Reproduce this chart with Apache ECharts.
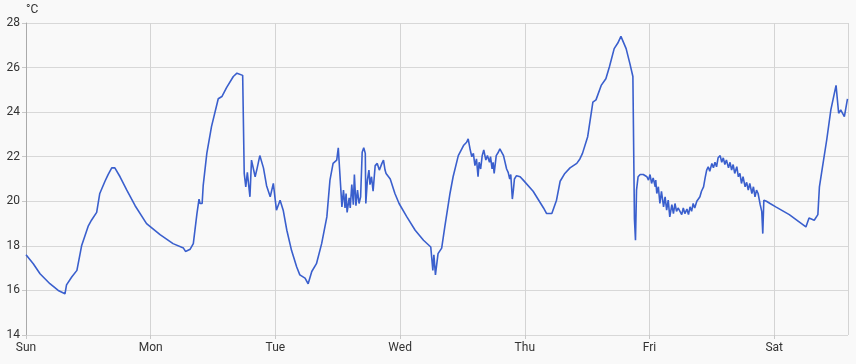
<!DOCTYPE html>
<html>
<head>
<meta charset="utf-8">
<script src="https://cdn.jsdelivr.net/npm/echarts@6/dist/echarts.min.js"></script>
<style>
html,body{margin:0;padding:0;background:#f9f9f9;}
#c{width:856px;height:364px;}
</style>
</head>
<body>
<div id="c"></div>
<script>
// Day names for x tick labels (x = hours since Sunday 00:00)
const dayLabels = ['Sun','Mon','Tue','Wed','Thu','Fri','Sat'];
const yTicks = [14,16,18,20,22,24,26,28];
const unitName = '°C';

// Readings [hour, °C], one array per day
const sunReadings = [[0.0,17.6],[1.4,17.2],[2.7,16.75],[4.6,16.3],[6.2,16.0],[7.5,15.85],[7.8,16.25],[8.8,16.6],[9.8,16.9],[10.7,18.0],[12.0,18.9],[12.6,19.15],[13.6,19.5],[14.2,20.35],[15.2,20.9],[15.8,21.2],[16.5,21.5],[17.1,21.5],[18.1,21.1],[19.4,20.5],[21.0,19.8],[23.2,19.0]];
const monReadings = [[25.8,18.5],[28.3,18.1],[30.3,17.9],[30.7,17.75],[31.6,17.85],[32.2,18.1],[32.9,19.45],[33.3,20.1],[33.5,19.9],[33.9,19.9],[34.1,20.7],[34.8,22.15],[35.7,23.35],[37.0,24.6],[37.7,24.7],[38.6,25.1],[39.9,25.6],[40.6,25.75],[41.7,25.65],[41.8,25.6],[42.0,21.25],[42.3,20.65],[42.6,21.3],[43.1,20.2],[43.4,21.85],[44.1,21.1],[44.5,21.5],[45.0,22.05],[45.7,21.5],[46.3,20.7],[47.0,20.2],[47.6,20.8]];
const tueReadings = [[48.2,19.6],[48.9,20.05],[49.5,19.6],[50.2,18.7],[51.1,17.8],[52.1,17.05],[52.7,16.7],[53.7,16.55],[54.3,16.3],[55.0,16.85],[55.9,17.2],[56.9,18.1],[57.9,19.3],[58.5,20.95],[59.1,21.7],[59.8,21.85],[60.1,22.4],[60.8,19.75],[61.1,20.5],[61.4,19.7],[61.6,20.35],[61.8,19.5],[62.2,20.15],[62.4,19.7],[62.7,20.75],[63.0,19.85],[63.2,21.2],[63.5,19.8],[63.8,20.5],[64.1,19.9],[64.4,20.2],[64.7,22.2],[65.0,22.4],[65.3,22.15],[65.4,19.9],[65.7,20.95],[66.0,21.4],[66.2,20.75],[66.5,21.1],[66.8,20.45],[67.2,21.6],[67.6,21.7],[68.0,21.4],[68.5,21.7],[68.8,21.85],[69.1,21.4],[69.3,21.25],[69.5,21.25],[70.1,21.0],[71.0,20.35],[71.8,19.9]];
const wedReadings = [[73.3,19.3],[74.9,18.7],[76.5,18.25],[77.9,17.95],[78.3,16.9],[78.5,17.6],[78.8,16.7],[79.3,17.65],[80.0,17.9],[80.6,18.85],[81.6,20.35],[82.2,21.1],[83.2,22.05],[83.5,22.05],[84.2,22.5],[84.8,22.65],[85.1,22.8],[85.5,22.3],[85.8,22.0],[86.1,22.15],[86.4,21.6],[86.7,21.9],[87.0,21.1],[87.2,21.75],[87.5,21.45],[87.8,22.05],[88.1,22.3],[88.5,21.85],[88.8,22.05],[89.2,21.75],[89.4,22.0],[89.7,21.45],[89.9,21.75],[90.1,21.25],[90.5,22.05],[90.9,22.2],[91.2,22.35],[91.5,22.3],[91.9,22.05],[92.2,22.0],[92.5,21.45],[92.8,21.3],[93.1,21.0],[93.3,21.2],[93.6,20.1],[93.8,20.5],[94.0,21.0],[94.4,21.15],[95.1,21.1],[95.7,20.95]];
const thuReadings = [[97.6,20.45],[99.6,19.7],[100.2,19.45],[101.2,19.45],[102.1,20.05],[102.8,20.9],[103.7,21.25],[104.7,21.5],[106.0,21.7],[106.6,21.9],[107.1,22.15],[108.1,22.9],[109.1,24.45],[109.7,24.55],[110.7,25.2],[111.6,25.5],[112.3,26.05],[113.2,26.85],[113.9,27.1],[114.5,27.4],[114.8,27.4],[115.5,26.85],[116.2,26.2],[116.8,25.6],[117.1,19.2],[117.3,18.25],[117.5,20.5],[117.8,21.1],[118.2,21.2],[118.8,21.2],[119.5,21.1],[119.8,20.95]];
const friReadings = [[120.1,21.2],[120.4,20.8],[120.7,21.05],[121.1,20.65],[121.2,20.95],[121.4,20.35],[121.7,20.65],[122.0,19.9],[122.3,20.45],[122.7,19.75],[123.0,20.2],[123.3,19.6],[123.6,20.05],[123.9,19.3],[124.3,19.85],[124.6,19.45],[124.9,19.9],[125.2,19.55],[125.5,19.7],[126.2,19.4],[126.5,19.7],[126.8,19.45],[127.2,19.65],[127.5,19.4],[127.8,19.75],[128.1,19.55],[128.4,19.9],[128.7,19.7],[129.1,20.0],[129.4,20.05],[129.7,20.2],[130.0,20.45],[130.4,20.65],[130.7,21.05],[131.0,21.4],[131.3,21.55],[131.6,21.35],[132.0,21.7],[132.3,21.5],[132.6,21.75],[132.9,21.55],[133.2,21.95],[133.6,22.05],[133.9,21.75],[134.2,21.95],[134.5,21.65],[134.8,21.85],[135.2,21.5],[135.5,21.75],[135.8,21.4],[136.1,21.65],[136.4,21.25],[136.8,21.55],[137.1,21.1],[137.4,21.25],[137.7,20.8],[138.0,21.1],[138.4,20.65],[138.7,20.85],[139.0,20.5],[139.3,20.8],[139.7,20.35],[140.0,20.65],[140.3,20.2],[140.6,20.5],[140.9,20.35],[141.3,19.85],[141.6,19.55],[141.8,18.55],[142.0,20.05],[142.5,20.0],[143.2,19.9]];
const satReadings = [[144.3,19.75],[146.9,19.4],[150.1,18.85],[150.7,19.25],[151.7,19.15],[152.4,19.4],[152.7,20.65],[153.3,21.55],[154.1,22.75],[154.9,24.1],[155.9,25.2],[156.4,23.95],[156.8,24.1],[157.5,23.8],[158.1,24.6]];

const seriesData = [].concat(sunReadings, monReadings, tueReadings, wedReadings, thuReadings, friReadings, satReadings);

const chart = echarts.init(document.getElementById('c'));
chart.setOption({
  backgroundColor: '#f9f9f9',
  animation: false,
  grid: { left: 26, right: 8, top: 23, bottom: 29, containLabel: false },
  xAxis: {
    type: 'value',
    min: 0,
    max: 158.2,
    interval: 24,
    axisLine: { show: false },
    axisTick: { show: true, length: 4, lineStyle: { color: '#c8c8c8' } },
    splitLine: { show: true, lineStyle: { color: '#d4d4d4', width: 1 } },
    axisLabel: {
      color: '#333', fontFamily: 'Roboto', fontSize: 12, margin: 7,
      showMaxLabel: false,
      formatter: v => (v % 24 === 0 ? (dayLabels[v / 24] || '') : '')
    }
  },
  yAxis: {
    type: 'value',
    min: yTicks[0],
    max: yTicks[yTicks.length - 1],
    interval: 2,
    name: unitName,
    nameGap: 7,
    nameTextStyle: { color: '#333', fontFamily: 'Roboto', fontSize: 12, align: 'left' },
    axisLine: { show: true, lineStyle: { color: '#aaaaaa' } },
    axisTick: { show: true, length: 4, lineStyle: { color: '#c8c8c8' } },
    splitLine: { show: true, lineStyle: { color: '#d8d8d8', width: 1 } },
    axisLabel: { color: '#333', fontFamily: 'Roboto', fontSize: 12, margin: 6 }
  },
  series: [{
    type: 'line',
    data: seriesData,
    showSymbol: false,
    symbol: 'none',
    lineStyle: { color: '#3a5fcd', width: 1.6 },
    smooth: false
  }]
});
</script>
</body>
</html>
